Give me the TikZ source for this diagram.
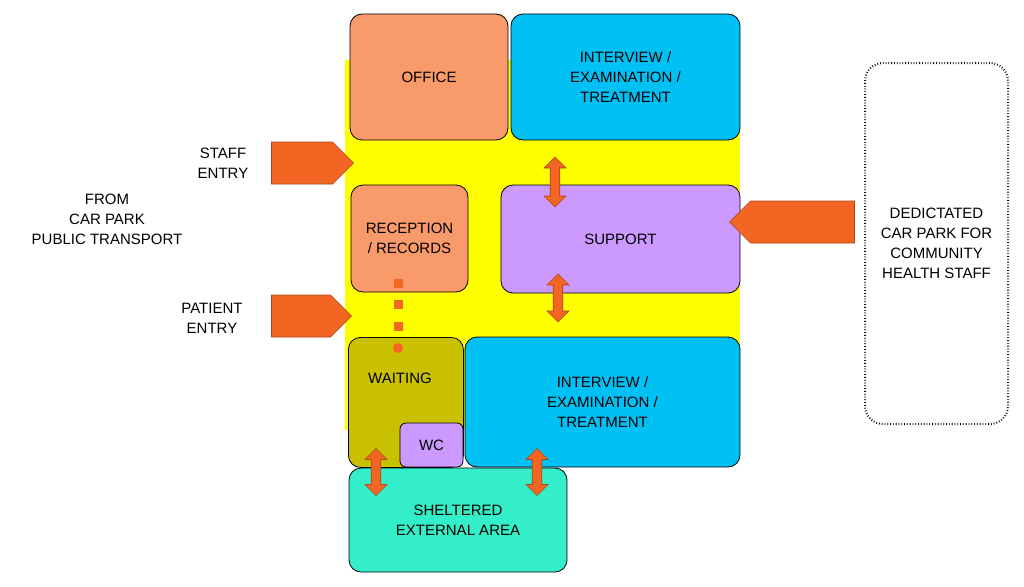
\documentclass[tikz,border=0pt]{standalone}
\usepackage{fontspec}
\setmainfont{Liberation Sans}
\usetikzlibrary{shapes.arrows}
\definecolor{orng}{HTML}{F99A6B}
\definecolor{cyn}{HTML}{00C0F4}
\definecolor{purp}{HTML}{CC99FF}
\definecolor{olv}{HTML}{C8C000}
\definecolor{teal2}{HTML}{33EEC8}
\definecolor{arr}{HTML}{F26522}
\definecolor{yel}{HTML}{FFFF00}
\tikzset{
 room/.style={draw=black,line width=0.8pt,rounded corners=12pt,align=center,font=\fontsize{15}{20}\selectfont},
 rarrow/.style={single arrow,draw=arr!70!black,fill=arr,line width=0.6pt,minimum height=#1,minimum width=42pt,single arrow head extend=0pt,inner sep=4pt},
 darrow/.style={double arrow,draw=arr!70!black,fill=arr,line width=0.6pt,minimum height=#1,minimum width=22pt,double arrow head extend=3pt,inner sep=2pt,rotate=90},
 lbl/.style={align=center,font=\fontsize{15}{20}\selectfont},
 dotsq/.style={fill=arr,minimum size=9pt,inner sep=0pt}
}
\begin{document}
\begin{tikzpicture}[x=1pt,y=-1pt]
\useasboundingbox (0,0) rectangle (1024,586);
\fill[yel] (345,60) rectangle (740,430);
\node[room,fill=orng,minimum width=158pt,minimum height=126pt] (office) at (429,77) {OFFICE};
\node[room,fill=cyn,minimum width=229pt,minimum height=126pt] (int1) at (625.5,77) {INTERVIEW /\\EXAMINATION /\\TREATMENT};
\node[room,fill=orng,minimum width=117pt,minimum height=107pt] (rec) at (409.5,238.5) {RECEPTION\\/ RECORDS};
\node[room,fill=purp,minimum width=239pt,minimum height=108pt] (sup) at (620.5,239) {SUPPORT};
\node[room,fill=olv,minimum width=115pt,minimum height=130pt,anchor=north west,text height=0pt] (wait) at (348,337) {};
\node[lbl] (waitl) at (400,378) {WAITING};
\node[room,fill=cyn,minimum width=275pt,minimum height=130pt] (int2) at (602.5,402) {INTERVIEW /\\EXAMINATION /\\TREATMENT};
\node[room,fill=purp,rounded corners=6pt,minimum width=63pt,minimum height=44pt] (wc) at (431.5,445) {WC};
\node[room,fill=teal2,minimum width=218pt,minimum height=104pt] (shel) at (458,520) {SHELTERED\\EXTERNAL AREA};
\node[room,dotted,line width=2pt,rounded corners=18pt,minimum width=143pt,minimum height=361pt] (park) at (936.5,243.5) {DEDICTATED\\CAR PARK FOR\\COMMUNITY\\HEALTH STAFF};
\node[lbl] (staffl) at (223,163) {STAFF\\ENTRY};
\node[lbl] (patl) at (212,318) {PATIENT\\ENTRY};
\node[lbl] (from) at (107,219) {FROM\\CAR PARK\\PUBLIC TRANSPORT};
\node[rarrow=82pt] (a1) at (302,163) {};
\node[rarrow=80pt] (a2) at (301,316) {};
\node[rarrow=125pt,shape border rotate=180] (a3) at (802.5,222) {};
\node[darrow=50pt] (d1) at (555,182) {};
\node[darrow=48pt] (d2) at (558,298) {};
\node[darrow=47pt] (d3) at (376,472) {};
\node[darrow=47pt] (d4) at (537,472) {};
\node[dotsq] (s1) at (398,283) {};
\node[dotsq] (s2) at (398,304) {};
\node[dotsq] (s3) at (398,326) {};
\node[circle,fill=arr,minimum size=10pt,inner sep=0pt] (s4) at (398,348) {};
\end{tikzpicture}
\end{document}
